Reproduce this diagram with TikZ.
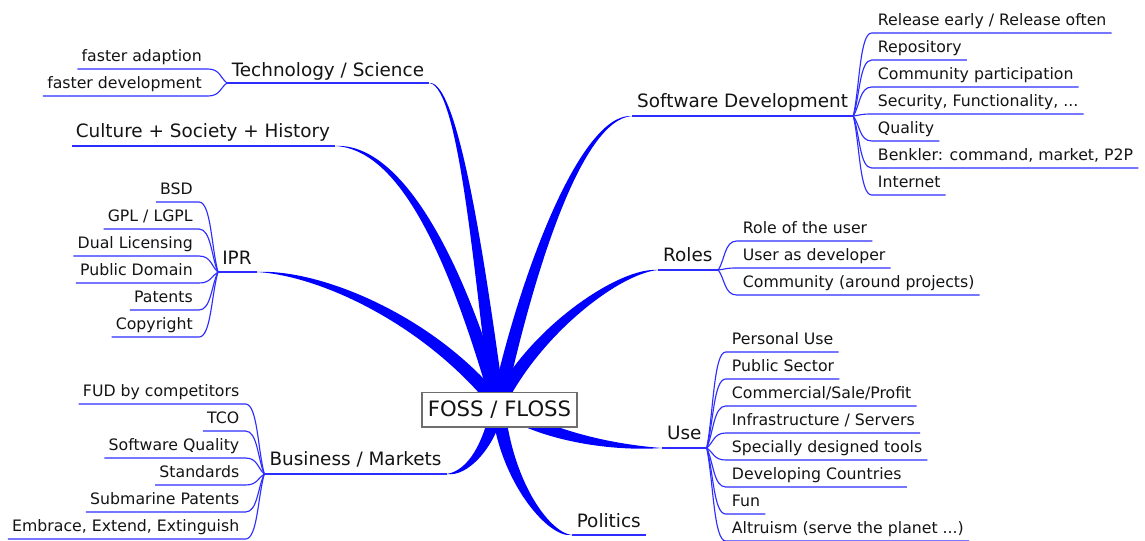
\documentclass[tikz,border=0pt]{standalone}
\usepackage{fontspec}
\setmainfont{DejaVu Sans}
\usetikzlibrary{calc}
\definecolor{mmblue}{RGB}{0,0,255}
\definecolor{ulblue}{RGB}{45,45,255}
\definecolor{txt}{RGB}{20,20,20}
\definecolor{boxgray}{RGB}{110,110,110}
\newcommand\mmsubfont{\fontsize{11.8pt}{14pt}\selectfont}
\newcommand\mmtopfont{\fontsize{13.8pt}{16pt}\selectfont}
\newcommand\mmrootfont{\fontsize{15.9pt}{18pt}\selectfont}
\tikzset{
  subtxt/.style={inner sep=0pt, text=txt, font=\mmsubfont},
  maintxt/.style={inner sep=0pt, text=txt, font=\mmtopfont},
  ul/.style={draw=ulblue, line width=0.85pt},
  branchfill/.style={fill=mmblue},
  rootbox/.style={draw=boxgray, fill=white, line width=0.8pt, inner sep=0pt,
    minimum width=116.25pt, minimum height=25.9pt, font=\mmrootfont, text=txt}
}
% right-hand sub item: name, fork, text-left x, underline y, text
\newcommand\rsub[5]{%
  \node[subtxt, anchor=base west] (#1) at (#3,#4-7.5) {#5};
  \coordinate (#1s) at ($(#1.base west)+(-6,7.5)$);
  \coordinate (#1e) at ($(#1.base east)+(5,7.5)$);
  \draw[ul] (#2) .. controls ($(#2)!0.35!(#1s)$) and ($(#1s)+(-12,0)$) .. (#1s) -- (#1e);
}
% left-hand sub item: name, fork, text-right x, underline y, text
\newcommand\lsub[5]{%
  \node[subtxt, anchor=base east] (#1) at (#3,#4-7.5) {#5};
  \coordinate (#1s) at ($(#1.base east)+(6,7.5)$);
  \coordinate (#1e) at ($(#1.base west)+(-4,7.5)$);
  \draw[ul] (#2) .. controls ($(#2)!0.35!(#1s)$) and ($(#1s)+(12,0)$) .. (#1s) -- (#1e);
}
% topic left of centre: name, fork x, underline y, text-left x, baseline y, text
\newcommand\ltopic[6]{%
  \coordinate (#1F) at (#2,#3);
  \node[maintxt, anchor=base west] (#1) at (#4,#5) {#6};
  \coordinate (#1T) at ($(#1.base east)+(5,0)$);
  \coordinate (#1E) at (#1T |- #1F);
  \draw[ul] (#1F) -- (#1E);
}
% topic right of centre: name, fork x, underline y, text-right x, baseline y, text
\newcommand\rtopic[6]{%
  \coordinate (#1F) at (#2,#3);
  \node[maintxt, anchor=base east] (#1) at (#4,#5) {#6};
  \coordinate (#1T) at ($(#1.base west)+(-5,0)$);
  \coordinate (#1E) at (#1T |- #1F);
  \draw[ul] (#1E) -- (#1F);
}
% tapered branch from the centre C to an end coordinate
\newcommand\mmbranch[3]{%
  \coordinate (bPa) at #2;
  \coordinate (bPb) at #3;
  \coordinate (bL) at ($(C)!5pt!90:(bPb)$);
  \coordinate (bR) at ($(C)!5pt!-90:(bPb)$);
  \coordinate (eL) at ($(bPa)!2.6pt!90:(#1)$);
  \coordinate (eR) at ($(bPa)!2.6pt!-90:(#1)$);
  \fill[branchfill] (#1) .. controls (eL) and ($(bPb)+(bL)-(C)$) .. (bL)
     -- (bR) .. controls ($(bPb)+(bR)-(C)$) and (eR) .. (#1) -- cycle;
}
\begin{document}
\begin{tikzpicture}[x=0.75pt, y=-0.75pt]
\useasboundingbox (0,0) rectangle (1145,540);
\fill[white] (0,0) rectangle (1145,540);
\coordinate (C) at (498,405);

% main topics
\ltopic{tech}{227}{83}{231.5}{76}{Technology / Science}
\ltopic{cult}{72}{146}{75.5}{137.5}{Culture + Society + History}
\ltopic{ipr}{218}{272}{222}{264}{IPR}
\ltopic{bus}{264.3}{474}{269.3}{465}{Business / Markets}
\rtopic{sw}{853.3}{116}{848.3}{107.5}{Software Development}
\rtopic{roles}{718.3}{270}{712.7}{261}{Roles}
\rtopic{use}{706.7}{448}{701.7}{439.5}{Use}
\rtopic{pol}{646}{535}{641}{527}{Politics}

% branches
\mmbranch{techE}{(460,83)}{(482,290)}
\mmbranch{cultE}{(400,146)}{(455,255)}
\mmbranch{iprE}{(320,272)}{(430,320)}
\mmbranch{busE}{(468,474)}{(490,445)}
\mmbranch{polE}{(548,535)}{(505,480)}
\mmbranch{useE}{(615,448)}{(545,437)}
\mmbranch{rolesE}{(620,270)}{(535,330)}
\mmbranch{swE}{(580,116)}{(525,280)}

\node[rootbox] (root) at (499.5,409.75) {FOSS / FLOSS};

% Technology / Science
\lsub{t1}{techF}{202}{69}{faster adaption}
\lsub{t2}{techF}{202}{96}{faster development}
% IPR
\lsub{i1}{iprF}{193}{202}{BSD}
\lsub{i2}{iprF}{193}{229}{GPL / LGPL}
\lsub{i3}{iprF}{193}{256}{Dual Licensing}
\lsub{i4}{iprF}{193}{283}{Public Domain}
\lsub{i5}{iprF}{193}{310}{Patents}
\lsub{i6}{iprF}{193}{337}{Copyright}
% Business / Markets
\lsub{b1}{busF}{239.5}{404}{FUD by competitors}
\lsub{b2}{busF}{239.5}{431}{TCO}
\lsub{b3}{busF}{239.5}{458}{Software Quality}
\lsub{b4}{busF}{239.5}{485}{Standards}
\lsub{b5}{busF}{239.5}{512}{Submarine Patents}
\lsub{b6}{busF}{239.5}{539}{Embrace, Extend, Extinguish}
% Software Development
\rsub{s1}{swF}{877.7}{33}{Release early / Release often}
\rsub{s2}{swF}{877.7}{60}{Repository}
\rsub{s3}{swF}{877.7}{87}{Community participation}
\rsub{s4}{swF}{877.7}{114}{Security, Functionality, ...}
\rsub{s5}{swF}{877.7}{141}{Quality}
\rsub{s6}{swF}{877.7}{168}{Benkler: command, market, P2P}
\rsub{s7}{swF}{877.7}{195}{Internet}
% Roles
\rsub{r1}{rolesF}{742.7}{241}{Role of the user}
\rsub{r2}{rolesF}{742.7}{268}{User as developer}
\rsub{r3}{rolesF}{742.7}{295}{Community (around projects)}
% Use
\rsub{u1}{useF}{731.7}{352}{Personal Use}
\rsub{u2}{useF}{731.7}{379}{Public Sector}
\rsub{u3}{useF}{731.7}{406}{Commercial/Sale/Profit}
\rsub{u4}{useF}{731.7}{433}{Infrastructure / Servers}
\rsub{u5}{useF}{731.7}{460}{Specially designed tools}
\rsub{u6}{useF}{731.7}{487}{Developing Countries}
\rsub{u7}{useF}{731.7}{514}{Fun}
\rsub{u8}{useF}{731.7}{541}{Altruism (serve the planet ...)}
\end{tikzpicture}
\end{document}
